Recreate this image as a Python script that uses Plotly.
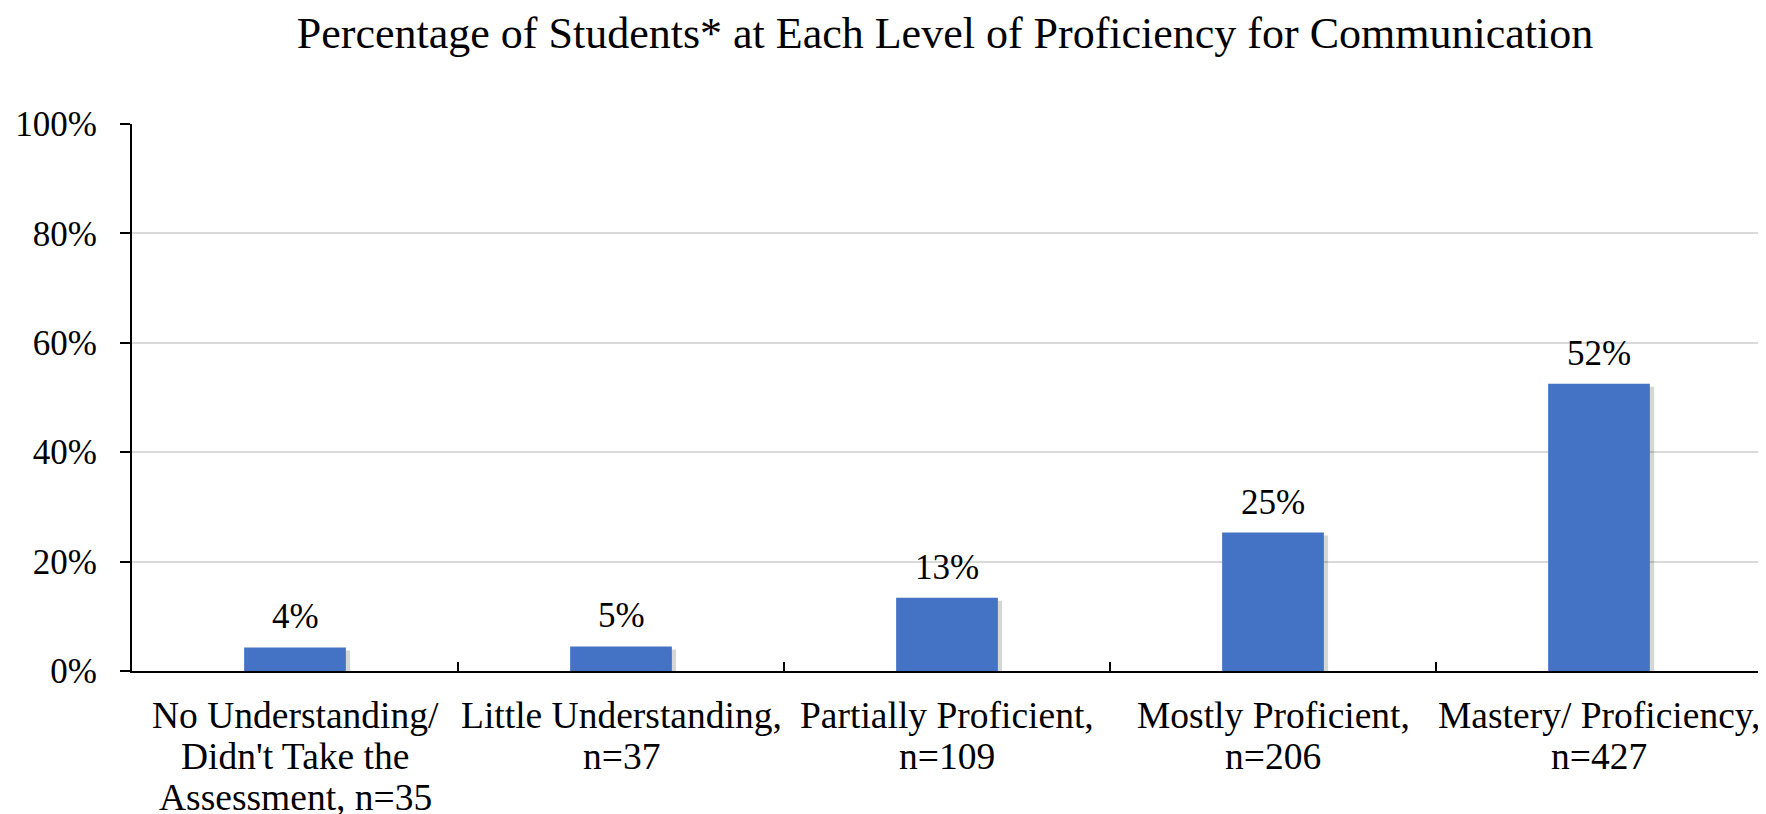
import plotly.graph_objects as go

categories = [
    "No Understanding/<br>Didn't Take the<br>Assessment, n=35",
    "Little Understanding,<br>n=37",
    "Partially Proficient,<br>n=109",
    "Mostly Proficient,<br>n=206",
    "Mastery/ Proficiency,<br>n=427",
]
values = [4.3, 4.5, 13.4, 25.3, 52.5]
value_labels = ["4%", "5%", "13%", "25%", "52%"]
y_ticks = [0, 20, 40, 60, 80, 100]
y_tick_labels = ["0%", "20%", "40%", "60%", "80%", "100%"]

title = "Percentage of Students* at Each Level of Proficiency for Communication"

FONT = "Liberation Serif, Times New Roman, serif"
BAR_W = 0.312

# the page body adds an 8px offset; figure is sized to fit the 1766x814 window
W, H = 1758, 806

fig = go.Figure()
# soft shadow behind bars
fig.add_trace(go.Bar(
    x=categories, y=values, base=-0.55, width=BAR_W, offset=-BAR_W / 2 + 0.013,
    marker=dict(color="rgba(0,0,0,0.16)", line=dict(width=0)),
    hoverinfo="skip", showlegend=False,
))
fig.add_trace(go.Bar(
    x=categories, y=values, width=BAR_W, offset=-BAR_W / 2,
    marker=dict(color="#4472C4", line=dict(width=0)),
    showlegend=False,
))

# value labels
for c, v, t in zip(categories, values, value_labels):
    fig.add_annotation(
        x=c, y=v, text=t, showarrow=False, yanchor="bottom", yshift=9,
        font=dict(family=FONT, size=35, color="black"),
    )

# category labels (one annotation per line for tighter line spacing)
LINE_H = 41
for c in categories:
    for k, line in enumerate(c.split("<br>")):
        fig.add_annotation(
            x=c, xref="x", y=0, yref="paper", text=line, showarrow=False,
            yanchor="middle", yshift=-(44 + k * LINE_H),
            font=dict(family=FONT, size=37.5, color="black"),
        )

fig.update_layout(
    width=W, height=H,
    margin=dict(l=124, r=4, t=116, b=143, autoexpand=False),
    paper_bgcolor="white", plot_bgcolor="white",
    barmode="overlay",
    title=dict(
        text=title, x=937 / W, xanchor="center",
        y=1 - 25 / H, yanchor="middle", yref="container",
        font=dict(family=FONT, size=44, color="black"),
    ),
    font=dict(family=FONT, size=35, color="black"),
)
fig.update_xaxes(
    type="category",
    showticklabels=False,
    tickson="boundaries", ticks="inside", ticklen=9, tickwidth=2, tickcolor="black",
    showline=True, linecolor="black", linewidth=2,
    showgrid=False, zeroline=False, automargin=False,
)
fig.update_yaxes(
    range=[0, 100],
    tickmode="array", tickvals=y_ticks, ticktext=y_tick_labels,
    ticks="outside", ticklen=10, tickwidth=2, tickcolor="black",
    showline=True, linecolor="black", linewidth=2,
    showgrid=True, gridcolor="#d9d9d9", gridwidth=2,
    zeroline=False, automargin=False,
    tickfont=dict(family=FONT, size=35, color="black"),
    ticklabelstandoff=16,
)

fig.write_html("out.html")
